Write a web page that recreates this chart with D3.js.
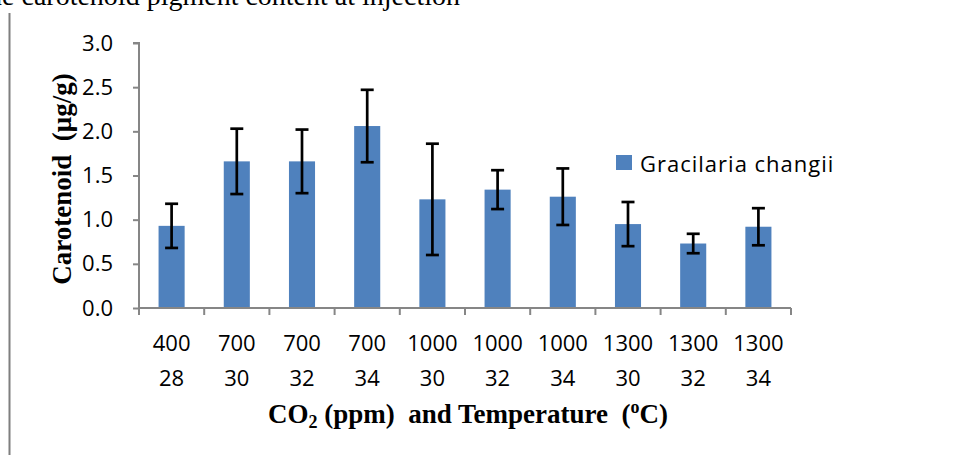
<!DOCTYPE html>
<html><head><meta charset="utf-8">
<script src="https://cdn.jsdelivr.net/npm/d3@7"></script>
<style>body{margin:0;background:#fff;overflow:hidden}</style>
</head><body>
<svg id="c" width="957" height="455"></svg>
<script>
const co2 = ["400","700","700","700","1000","1000","1000","1300","1300","1300"];
const temp = ["28","30","32","34","30","32","34","30","32","34"];
const values = [0.93,1.66,1.66,2.06,1.23,1.34,1.26,0.95,0.73,0.92];
const errors = [0.25,0.37,0.36,0.41,0.63,0.22,0.32,0.25,0.11,0.21];
const yTicks = [0,0.5,1.0,1.5,2.0,2.5,3.0];
const seriesName = "Gracilaria changii";

const svg = d3.select("#c");
const m = {l:139, r:957-791, t:43, b:455-308};
const W = 957, H = 455;
const idx = d3.range(values.length);
const x = d3.scaleBand().domain(idx).range([m.l, W-m.r]).paddingInner(0.6).paddingOuter(0.3);
const xb = d3.scaleBand().domain(idx).range([m.l, W-m.r]);
const y = d3.scaleLinear().domain([0,3]).range([H-m.b, m.t]);
const axisCol = "#868686";
const sans = "'Open Sans', 'Noto Sans', sans-serif";
const serif = "'Liberation Serif', 'Times New Roman', serif";
const fs = 22;

// top caption (cut off at the page edge, as in the reference)
svg.append("text").attr("x",460).attr("y",5).attr("text-anchor","end")
  .attr("font-family",serif).attr("font-size",28).attr("fill","#000")
  .text("the carotenoid pigment content at injection");
// left frame line
svg.append("line").attr("x1",9.5).attr("x2",9.5).attr("y1",13).attr("y2",455)
  .attr("stroke","#7f7f7f").attr("stroke-width",2);

// bars
svg.selectAll("rect.bar").data(idx).join("rect").attr("class","bar")
  .attr("x",i=>x(i)).attr("width",x.bandwidth())
  .attr("y",i=>y(values[i])).attr("height",i=>y(0)-y(values[i]))
  .attr("fill","#4F81BD");

// error bars
const eg = svg.append("g").attr("stroke","#000").attr("stroke-width",2.7);
idx.forEach(i=>{
  const cx = x(i)+x.bandwidth()/2;
  const hi = y(values[i]+errors[i]), lo = y(values[i]-errors[i]);
  eg.append("line").attr("x1",cx).attr("x2",cx).attr("y1",hi).attr("y2",lo);
  eg.append("line").attr("x1",cx-6.5).attr("x2",cx+6.5).attr("y1",hi).attr("y2",hi);
  eg.append("line").attr("x1",cx-6.5).attr("x2",cx+6.5).attr("y1",lo).attr("y2",lo);
});

// y axis
const ya = svg.append("g").attr("transform",`translate(${m.l},0)`)
  .call(d3.axisLeft(y).tickValues(yTicks).tickFormat(d3.format(".1f")).tickSize(6).tickPadding(20));
ya.select(".domain").attr("stroke",axisCol).attr("stroke-width",2).attr("d",`M-6,${y(3)}H0V${y(0)}`);
ya.selectAll(".tick line").attr("stroke",axisCol).attr("stroke-width",2);
ya.selectAll(".tick text").attr("font-family",sans).attr("font-size",fs).attr("fill","#000");

// x axis
const xa = svg.append("g").attr("transform",`translate(0,${y(0)})`);
xa.append("line").attr("x1",m.l).attr("x2",W-m.r).attr("y1",0).attr("y2",0)
  .attr("stroke",axisCol).attr("stroke-width",2);
const bounds = idx.map(i=>xb(i)).concat([xb(idx.length-1)+xb.bandwidth()]);
xa.selectAll("line.t").data(bounds).join("line").attr("class","t")
  .attr("x1",d=>d).attr("x2",d=>d).attr("y1",0).attr("y2",7)
  .attr("stroke",axisCol).attr("stroke-width",2);
idx.forEach(i=>{
  const cx = xb(i)+xb.bandwidth()/2;
  xa.append("text").attr("x",cx).attr("y",43).attr("text-anchor","middle")
    .attr("font-family",sans).attr("font-size",fs).attr("fill","#000").text(co2[i]);
  xa.append("text").attr("x",cx).attr("y",78).attr("text-anchor","middle")
    .attr("font-family",sans).attr("font-size",fs).attr("fill","#000").text(temp[i]);
});

// x title
const xt = svg.append("text").attr("x",468).attr("y",423).attr("text-anchor","middle")
  .attr("font-family",serif).attr("font-size",27).attr("font-weight","bold").attr("fill","#000")
  .attr("xml:space","preserve");
xt.append("tspan").text("CO");
xt.append("tspan").attr("font-size",18).attr("dy",5).text("2");
xt.append("tspan").attr("dy",-5).text(" (ppm)  and Temperature  (");
xt.append("tspan").attr("font-size",18).attr("dy",-10).text("o");
xt.append("tspan").attr("dy",10).text("C)");

// y title
svg.append("text").attr("transform","translate(71,179) rotate(-90)").attr("text-anchor","middle")
  .attr("font-family",serif).attr("font-size",27).attr("font-weight","bold").attr("fill","#000")
  .attr("xml:space","preserve").text("Carotenoid  (μg/g)");

// legend
svg.append("rect").attr("x",616).attr("y",155).attr("width",16).attr("height",15).attr("fill","#4F81BD");
svg.append("text").attr("x",640).attr("y",172).attr("font-family",sans).attr("font-size",fs)
  .attr("letter-spacing",1).attr("fill","#000").text(seriesName);
</script>
</body></html>
